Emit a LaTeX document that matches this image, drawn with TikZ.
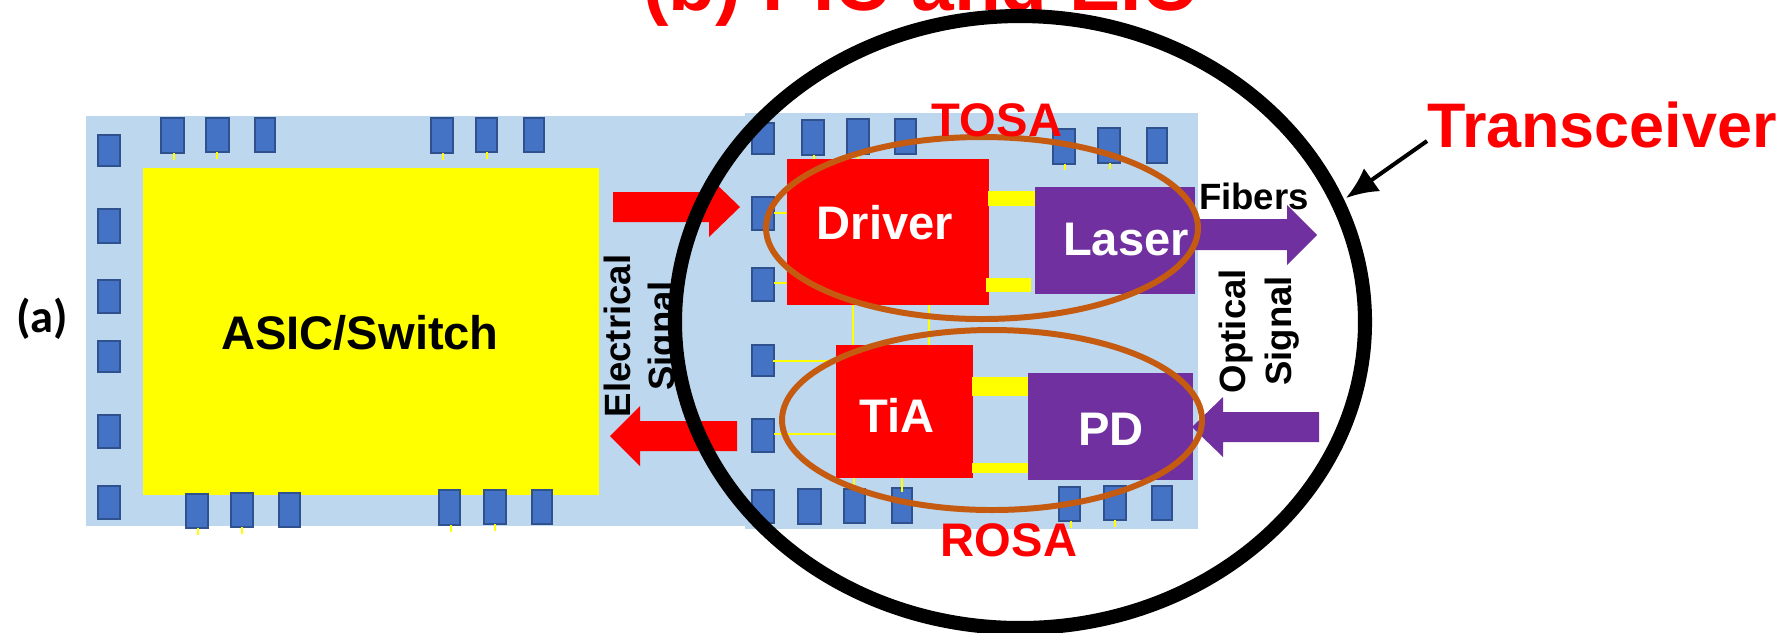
\documentclass[tikz,border=0pt]{standalone}
\usepackage{fontspec}
\usetikzlibrary{arrows.meta}
\setmainfont{Liberation Sans}
\newfontfamily\carlito{Carlito}
\definecolor{boardblue}{HTML}{BDD7EE}
\definecolor{padblue}{HTML}{4472C4}
\definecolor{padedge}{HTML}{2F528F}
\definecolor{oapurple}{HTML}{7030A0}
\definecolor{osabrown}{HTML}{C55A11}
\definecolor{purered}{HTML}{FF0000}
\definecolor{pureyellow}{HTML}{FFFF00}
\tikzset{
  pad/.style={fill=padblue, draw=padedge, line width=0.7pt},
  tick/.style={pureyellow, line width=0.8pt},
  labelbig/.style={anchor=base, inner sep=0pt, font=\bfseries\fontsize{13.4}{16}\selectfont},
  labelsmall/.style={inner sep=0pt, align=center, rotate=90, font=\bfseries\fontsize{10.4}{12}\selectfont},
}

\begin{document}
\begin{tikzpicture}[x=0.01cm, y=-0.01cm]
\useasboundingbox (0,0) rectangle (1791,632);
% boards
\fill[boardblue] (86,116) rectangle (745,526);
\fill[boardblue] (745,113) rectangle (1198,529);
\fill[pureyellow] (143,168) rectangle (599,495);
% pads of the ASIC board
\foreach \xa/\ya/\xb/\yb in {98/135/120/166, 98/209/120/243, 98/280/120/313, 98/341/120/372, 98/415/120/448, 98/486/120/519,
  161/118/184/153, 206/118/229/152, 255/118/275/152, 431/118/453/153, 476/118/497/152, 524/118/544/152,
  186/494/208/528, 231/493/253/527, 279/493/300/527, 439/490/460/525, 484/490/506/524, 532/490/552/524}
  \draw[pad] (\xa,\ya) rectangle (\xb,\yb);
% pads of the transceiver board
\foreach \xa/\ya/\xb/\yb in {752/123/774/154, 802/120/824/155, 847/119/869/154, 895/119/916/154,
  1053/129/1075/164, 1098/128/1120/163, 1147/128/1167/163,
  752/197/774/230, 752/268/774/301, 752/345/774/376, 752/419/774/452,
  752/490/774/523, 798/489/821/524, 844/489/865/523, 892/488/912/523,
  1059/487/1080/521, 1104/486/1126/520, 1152/486/1172/520}
  \draw[pad] (\xa,\ya) rectangle (\xb,\yb);
% short wires
\foreach \xa/\ya/\xb/\yb in {174/153/174/160, 217/152/217/159, 443/153/443/160, 487/152/487/159,
  198/528/198/535, 242/527/242/534, 451/525/451/532, 495/524/495/531,
  814/155/814/162, 858/154/858/161, 1065/164/1065/170, 1110/163/1110/169,
  774/213/789/213, 774/283/790/283, 853/305/853/345, 929/305/929/345,
  773/361/836/361, 774/434/838/434, 854/476/854/485, 902/478/902/492,
  1071/521/1071/528, 1115/520/1115/527}
  \draw[tick] (\xa,\ya) -- (\xb,\yb);
% driver and laser
\fill[purered] (787,159) rectangle (989,305);
\fill[oapurple] (1035,187) rectangle (1195,294);
\fill[pureyellow] (988,191) rectangle (1035,206);
\fill[pureyellow] (986,278) rectangle (1031,292);
% tia and pd
\fill[purered] (836,345) rectangle (973,478);
\fill[oapurple] (1028,373) rectangle (1193,480);
\fill[pureyellow] (972,377) rectangle (1028,396);
\fill[pureyellow] (972,463) rectangle (1028,473);
% block arrows
\fill[purered] (613,192) -- (709,192) -- (709,177) -- (740,207) -- (709,237) -- (709,222) -- (613,222) -- cycle;
\fill[purered] (737,421) -- (640,421) -- (640,406) -- (610,436) -- (640,466) -- (640,451) -- (737,451) -- cycle;
\fill[oapurple] (1195,219) -- (1287,219) -- (1287,205) -- (1317,235) -- (1287,265) -- (1287,250) -- (1195,250) -- cycle;
\fill[oapurple] (1319,412) -- (1223,412) -- (1223,397) -- (1192,427) -- (1223,457) -- (1223,442) -- (1319,442) -- cycle;
% rings
\draw[osabrown, line width=1.7pt] (982,228) ellipse [x radius=216, y radius=91];
\draw[osabrown, line width=1.7pt] (992,420) ellipse [x radius=210, y radius=90];
% labels
\node[labelbig] (asic) at (360,349) {ASIC/Switch};
\node[labelbig, white] (driver) at (885,239) {Driver};
\node[labelbig, white] (laser) at (1126,255) {Laser};
\node[labelbig, white] (tia) at (897,432) {TiA};
\node[labelbig, white] (pd) at (1111,445) {PD};
\node[labelbig, purered] (tosa) at (997,136) {TOSA};
\node[labelbig, purered] (rosa) at (1009,556) {ROSA};
\node[anchor=base, inner sep=0pt, font=\bfseries\fontsize{10.4}{12}\selectfont] (fibers) at (1254,209) {Fibers};
\node[labelsmall] (elsignal) at (643,336) {Electrical\\[0.65pt]Signal};
\node[labelsmall] (opsignal) at (1259,331) {Optical\\[1pt]Signal};
\node[anchor=base, inner sep=0pt, font=\carlito\bfseries\fontsize{13.2}{15}\selectfont] (parta) at (42,332) {(a)};
\node[anchor=base, inner sep=0pt, purered, font=\bfseries\fontsize{21.8}{26}\selectfont] (partb) at (920,10) {(b) PIC and EIC};
\node[anchor=base, inner sep=0pt, purered, font=\bfseries\fontsize{17.9}{21}\selectfont] (transceiver) at (1602,147) {Transceiver};
% the big circle
\draw[black, line width=4pt] (1020,322) ellipse [x radius=345, y radius=306];
\coordinate (pointer) at (1427,141);
\coordinate (ringedge) at (1346,198);
\draw[-{Latex[length=9pt, width=8pt]}, line width=1.15pt] (pointer) -- (ringedge);
\end{tikzpicture}
\end{document}
